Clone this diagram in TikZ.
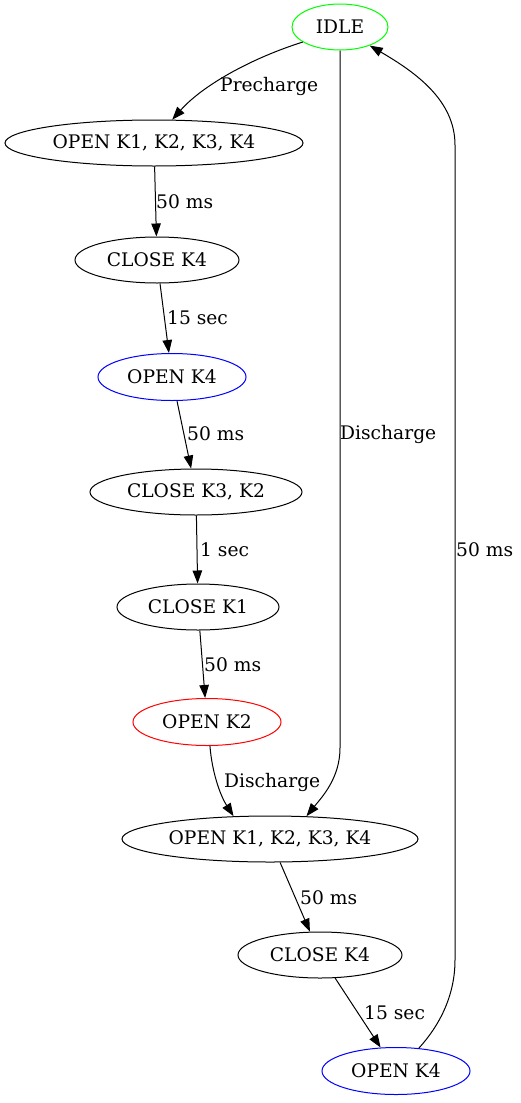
\documentclass[tikz,border=0pt]{standalone}
\usepackage{fontspec}
\setmainfont{DejaVu Serif}
\usetikzlibrary{shapes.geometric,arrows.meta}
\tikzset{
  state/.style={ellipse, draw, line width=1pt, inner sep=0pt, font=\fontsize{18.67}{22}\selectfont},
  arr/.style={draw, line width=1pt, -{Triangle[length=13pt,width=9.5pt]}},
  lbl/.style={anchor=west, inner sep=0pt, font=\fontsize{18.67}{22}\selectfont},
}
\begin{document}
\begin{tikzpicture}[x=1pt,y=-1pt]
\useasboundingbox (0,0) rectangle (520,1103);
\node[state, draw=green, minimum width=96pt, minimum height=46pt] (idle) at (340,27) {IDLE};
\node[state, minimum width=298pt, minimum height=46pt] (open1) at (154,143) {OPEN K1, K2, K3, K4};
\node[state, minimum width=164pt, minimum height=46pt] (close1) at (157,260) {CLOSE K4};
\node[state, draw=blue, minimum width=148pt, minimum height=47pt] (openk4a) at (172,377) {OPEN K4};
\node[state, minimum width=212pt, minimum height=46pt] (close32) at (196,492) {CLOSE K3, K2};
\node[state, minimum width=162pt, minimum height=46pt] (closek1) at (198,607) {CLOSE K1};
\node[state, draw=red, minimum width=148pt, minimum height=47pt] (openk2) at (207,722) {OPEN K2};
\node[state, minimum width=296pt, minimum height=46pt] (open3) at (270,839) {OPEN K1, K2, K3, K4};
\node[state, minimum width=164pt, minimum height=46pt] (close2) at (320,955) {CLOSE K4};
\node[state, draw=blue, minimum width=148pt, minimum height=47pt] (openk4b) at (396,1071) {OPEN K4};

\draw[arr] (idle.202) .. controls (252,58) and (203,85) .. (open1.52);
\draw[arr] (open1) -- (close1);
\draw[arr] (close1) -- (openk4a);
\draw[arr] (openk4a) -- (close32);
\draw[arr] (close32) -- (closek1);
\draw[arr] (closek1) -- (openk2);
\draw[arr] (openk2.-83) .. controls (212,772) and (220,795) .. (open3.148);
\draw[arr] (idle.south) -- (340,748) .. controls (340,778) and (322,797) .. (open3.32);
\draw[arr] (open3) -- (close2);
\draw[arr] (close2) -- (openk4b);
\draw[arr] (openk4b.45) .. controls (440,1025) and (455,995) .. (455,960) -- (455,145) .. controls (455,100) and (415,72) .. (idle.-32);

\node[lbl] (l1) at (220,86) {Precharge};
\node[lbl] (l2) at (156,202) {50 ms};
\node[lbl] (l3) at (167,318) {15 sec};
\node[lbl] (l4) at (187,434) {50 ms};
\node[lbl] (l5) at (340,434) {Discharge};
\node[lbl] (l6) at (200,550) {1 sec};
\node[lbl] (l7) at (204,665) {50 ms};
\node[lbl] (l8) at (224,782) {Discharge};
\node[lbl] (l9) at (300,898) {50 ms};
\node[lbl] (l10) at (364,1013) {15 sec};
\node[lbl] (l11) at (456,550) {50 ms};
\end{tikzpicture}
\end{document}
